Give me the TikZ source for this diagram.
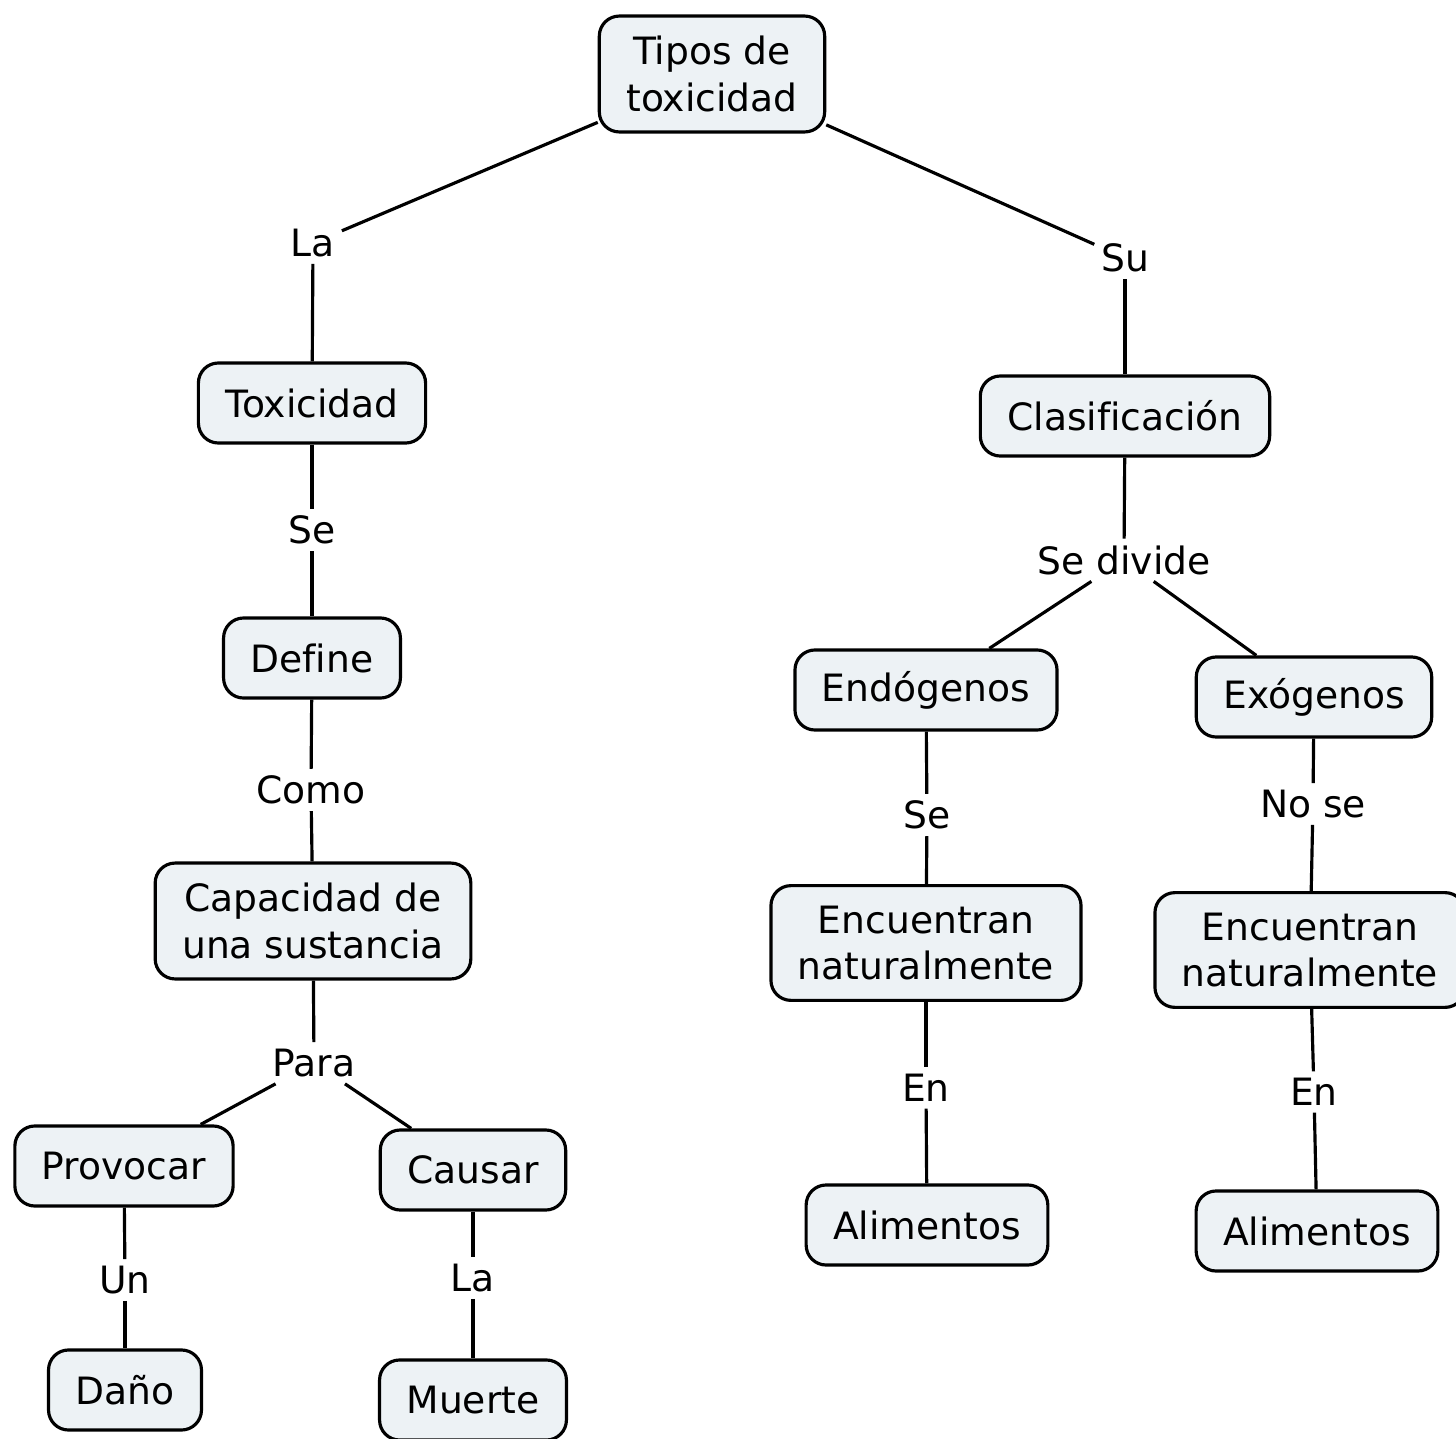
\documentclass[tikz,border=0pt]{standalone}
\usepackage{fontspec}
\setmainfont[Ligatures=NoCommon]{DejaVu Sans}
\definecolor{cmapfill}{RGB}{237,242,245}

\begin{document}
\begin{tikzpicture}[x=0.01cm, y=-0.01cm, line width=0.9pt,
  concept/.style={draw, fill=cmapfill, rounded corners=0.2cm, align=center, inner xsep=0.27cm, inner ysep=0.2cm, minimum height=0.8cm, font=\fontsize{10.7}{13.3}\selectfont},
  phrase/.style={inner sep=1.5pt, font=\fontsize{10.7}{13.3}\selectfont}]
\useasboundingbox (0,0) rectangle (1456,1439);
\node[concept] (tipos) at (712,74) {Tipos de\\toxicidad};
\node[phrase] (la) at (313,243) {La};
\node[phrase] (su) at (1125,258) {Su};
\node[concept] (toxicidad) at (312,403) {Toxicidad};
\node[concept] (clasificacion) at (1125,416) {Clasificación};
\node[phrase] (se) at (312,530) {Se};
\node[phrase] (sedivide) at (1124,560) {Se divide};
\node[concept] (define) at (312,658) {Define};
\node[concept] (endogenos) at (926,690) {Endógenos};
\node[concept] (exogenos) at (1314,697) {Exógenos};
\node[phrase] (como) at (311,790) {Como};
\node[phrase] (sesep) at (927,815) {Se};
\node[phrase] (nose) at (1313,804) {No se};
\node[concept] (capacidad) at (313,921) {Capacidad de\\una sustancia};
\node[concept] (encuentranA) at (926,943) {Encuentran\\naturalmente};
\node[concept] (encuentranB) at (1310,950) {Encuentran\\naturalmente};
\node[phrase] (para) at (314,1063) {Para};
\node[phrase] (enA) at (926,1088) {En};
\node[phrase] (enB) at (1314,1092) {En};
\node[concept] (provocar) at (124,1166) {Provocar};
\node[concept] (causar) at (473,1170) {Causar};
\node[concept] (alimentosA) at (927,1225) {Alimentos};
\node[concept] (alimentosB) at (1317,1231) {Alimentos};
\node[phrase] (un) at (125,1280) {Un};
\node[phrase] (lab) at (473,1278) {La};
\node[concept] (dano) at (125,1390) {Daño};
\node[concept] (muerte) at (473,1400) {Muerte};

\draw (tipos) -- (la);
\draw (la) -- (toxicidad);
\draw (tipos) -- (su);
\draw (su) -- (clasificacion);
\draw (toxicidad) -- (se);
\draw (se) -- (define);
\draw (define) -- (como);
\draw (como) -- (capacidad);
\draw (capacidad) -- (para);
\draw (para) -- (provocar);
\draw (para) -- (causar);
\draw (provocar) -- (un);
\draw (un) -- (dano);
\draw (causar) -- (lab);
\draw (lab) -- (muerte);
\draw (clasificacion) -- (sedivide);
\draw (sedivide) -- (endogenos);
\draw (sedivide) -- (exogenos);
\draw (endogenos) -- (sesep);
\draw (sesep) -- (encuentranA);
\draw (encuentranA) -- (enA);
\draw (enA) -- (alimentosA);
\draw (exogenos) -- (nose);
\draw (nose) -- (encuentranB);
\draw (encuentranB) -- (enB);
\draw (enB) -- (alimentosB);
\end{tikzpicture}
\end{document}
